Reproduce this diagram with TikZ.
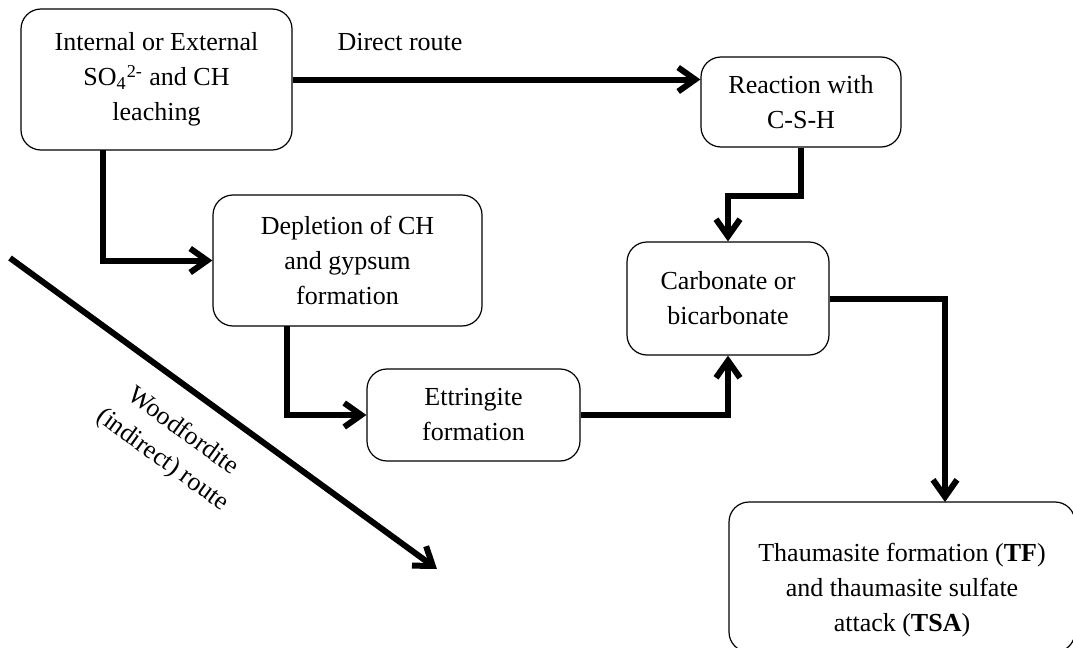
\documentclass[tikz,border=0pt]{standalone}
\usepackage{fontspec}
\setmainfont{Liberation Serif}
\usetikzlibrary{arrows.meta}

\begin{document}
\begin{tikzpicture}[x=0.5pt, y=-0.5pt,
    font=\fontsize{13}{17.5}\selectfont,
    box/.style={draw, line width=0.6pt, rounded corners=10pt, align=center, inner sep=0pt},
    flow/.style={line width=3pt, -{Straight Barb[length=8.5pt, width=12pt]}}]
    \useasboundingbox (0,0) rectangle (1073,648);
    \node[box, minimum width=135.5pt, minimum height=70.5pt] (a) at (156.5, 79.5) {Internal or External\\SO\textsubscript{4}\textsuperscript{2-} and CH\\leaching};
    \node[box, minimum width=100pt, minimum height=45pt] (b) at (801, 102) {Reaction with\\C-S-H};
    \node[box, minimum width=134.5pt, minimum height=65.5pt] (c) at (347.5, 260.5) {Depletion of CH\\and gypsum\\formation};
    \node[box, minimum width=106.5pt, minimum height=46pt] (d) at (473.5, 415) {Ettringite\\formation};
    \node[box, minimum width=101pt, minimum height=56.5pt] (e) at (728, 298.5) {Carbonate or\\bicarbonate};
    \node[box, minimum width=173pt, minimum height=75pt] (f) at (902, 577) {};
    \node[align=center] (ft) at (902, 590) {Thaumasite formation (\textbf{TF})\\and thaumasite sulfate\\attack (\textbf{TSA})};
    \node (dr) at (400, 42) {Direct route};
    \node[rotate=-36, align=center] (wr) at (172.5, 446) {Woodfordite\\(indirect) route};
    \coordinate (ad) at (103, 150);
    \coordinate (cd) at (287, 326);
    \coordinate (fn) at (945, 502);
    \coordinate (w1) at (10, 258);
    \coordinate (w2) at (437, 569);
    \draw [flow] (a.east) -- (a.east -| b.west);
    \draw [flow] (ad) |- (c);
    \draw [flow] (cd) |- (d);
    \draw [flow] (d) -| (e);
    \draw [flow] (b.south) -- ++(0,48) -| (e.north);
    \draw [flow] (e) -| (fn);
    \draw [flow] (w1) -- (w2);
  \end{tikzpicture}
\end{document}
